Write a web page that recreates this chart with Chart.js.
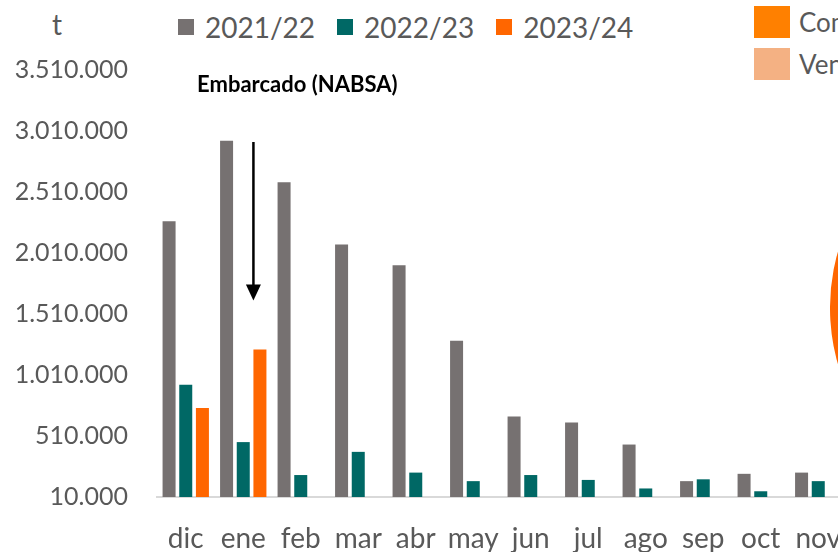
<!DOCTYPE html>
<html>
<head>
<meta charset="utf-8">
<script src="https://cdn.jsdelivr.net/npm/chart.js@4.4.0/dist/chart.umd.min.js"></script>
<style>
    html, body { margin: 0; padding: 0; background: #fff; }
    body { width: 838px; height: 552px; overflow: hidden; position: relative; font-family: Lato, sans-serif; color: #595959; }
    #barWrap { position: absolute; left: 0; top: 0; width: 880px; height: 580px; }
    #pieWrap { position: absolute; left: 830px; top: 103px; width: 410px; height: 410px; }
    .unit { position: absolute; left: 52px; top: 7px; font-size: 28px; }
    .legend { position: absolute; display: flex; white-space: nowrap; }
    .legend .item { display: flex; align-items: center; }
    #barLegend { left: 178px; top: 10px; font-size: 28px; }
    #barLegend .item { margin-right: 22px; }
    #barLegend .box { width: 16px; height: 16px; margin-right: 11px; }
    #pieLegend { left: 754px; top: 6px; flex-direction: column; font-size: 26px; }
    #pieLegend .item { height: 32px; margin-bottom: 10px; }
    #pieLegend .box { width: 36px; height: 32px; margin-right: 9px; }
</style>
</head>
<body>
<div class="unit">t</div>
<div id="barLegend" class="legend"></div>
<div id="pieLegend" class="legend"></div>
<div id="barWrap"><canvas id="barChart"></canvas></div>
<div id="pieWrap"><canvas id="pieChart"></canvas></div>
<script>
// data
const months = ['dic', 'ene', 'feb', 'mar', 'abr', 'may', 'jun', 'jul', 'ago', 'sep', 'oct', 'nov'];
const seasons = ['2021/22', '2022/23', '2023/24'];
const season2122 = [2270000, 2930000, 2590000, 2080000, 1910000, 1290000, 670000, 620000, 440000, 140000, 200000, 210000];
const season2223 = [930000, 460000, 190000, 380000, 210000, 140000, 190000, 150000, 80000, 155000, 57000, 140000];
const season2324 = [740000, 1220000, null, null, null, null, null, null, null, null, null, null];
const seasonColors = ['#767171', '#006865', '#FF6600'];
const yTicks = [10000, 510000, 1010000, 1510000, 2010000, 2510000, 3010000, 3510000];

// right-hand pie (mostly outside the picture)
const pieLabels = ['Comprado', 'Vendido'];
const pieValues = [82, 18];
const pieColors = ['#FF6600', '#F4B183'];
const pieLegendColors = ['#FF8000', '#F4B183'];

// annotation
const annotText = 'Embarcado (NABSA)';
const annotAt = 1.94;        // category position of the text
const annotValue = 3390000;  // text height in data units
const arrowFrom = 2920000;
const arrowTo = 1620000;

const textColor = '#595959';
const fmt = v => Math.round(v).toString().replace(/\B(?=(\d{3})+(?!\d))/g, '.');

function buildLegend(el, labels, colors) {
    labels.forEach((lab, i) => {
        const item = document.createElement('div');
        item.className = 'item';
        const box = document.createElement('span');
        box.className = 'box';
        box.style.background = colors[i];
        item.appendChild(box);
        item.appendChild(document.createTextNode(lab));
        el.appendChild(item);
    });
}
buildLegend(document.getElementById('barLegend'), seasons, seasonColors);
buildLegend(document.getElementById('pieLegend'), pieLabels, pieLegendColors);

const annotationPlugin = {
    id: 'embarcado',
    afterDatasetsDraw(chart) {
        const { ctx, scales: { x, y } } = chart;
        const bar = chart.getDatasetMeta(2).data[1];
        const ax = bar.x - bar.width / 2;
        const yTop = y.getPixelForValue(arrowFrom);
        const yTip = y.getPixelForValue(arrowTo);
        ctx.save();
        ctx.strokeStyle = '#000';
        ctx.fillStyle = '#000';
        ctx.lineWidth = 2.5;
        ctx.beginPath();
        ctx.moveTo(ax, yTop);
        ctx.lineTo(ax, yTip - 14);
        ctx.stroke();
        ctx.beginPath();
        ctx.moveTo(ax - 7.5, yTip - 16);
        ctx.lineTo(ax + 7.5, yTip - 16);
        ctx.lineTo(ax, yTip);
        ctx.closePath();
        ctx.fill();
        ctx.font = 'bold 22px Lato';
        ctx.textAlign = 'center';
        ctx.textBaseline = 'middle';
        ctx.fillText(annotText, x.getPixelForValue(annotAt), y.getPixelForValue(annotValue));
        ctx.restore();
    }
};

new Chart(document.getElementById('barChart'), {
    type: 'bar',
    data: {
        labels: months,
        datasets: [
            { label: seasons[0], data: season2122, backgroundColor: seasonColors[0] },
            { label: seasons[1], data: season2223, backgroundColor: seasonColors[1] },
            { label: seasons[2], data: season2324, backgroundColor: seasonColors[2] }
        ]
    },
    options: {
        responsive: true,
        maintainAspectRatio: false,
        animation: false,
        layout: { padding: { left: 12, top: 70, right: 33, bottom: 0 } },
        datasets: { bar: { categoryPercentage: 0.87, barPercentage: 0.78 } },
        plugins: { legend: { display: false }, tooltip: { enabled: false } },
        scales: {
            x: {
                grid: { display: false, drawTicks: false },
                border: { display: true, color: '#D9D9D9', width: 2 },
                ticks: { color: textColor, font: { family: 'Lato', size: 28 }, padding: 24.7, maxRotation: 0, autoSkip: false }
            },
            y: {
                min: 10000,
                max: 3510000,
                grid: { display: false, drawTicks: false },
                border: { display: false },
                ticks: { color: textColor, font: { family: 'Lato', size: 25 }, padding: 29, callback: v => fmt(v) },
                afterBuildTicks: scale => { scale.ticks = yTicks.map(v => ({ value: v })); },
                afterFit: scale => { scale.width = 145; }
            }
        }
    },
    plugins: [annotationPlugin]
});

new Chart(document.getElementById('pieChart'), {
    type: 'pie',
    data: {
        labels: pieLabels,
        datasets: [{ data: pieValues, backgroundColor: pieColors, borderWidth: 0 }]
    },
    options: {
        responsive: true,
        maintainAspectRatio: false,
        animation: false,
        plugins: { legend: { display: false }, tooltip: { enabled: false } }
    }
});
</script>
</body>
</html>
